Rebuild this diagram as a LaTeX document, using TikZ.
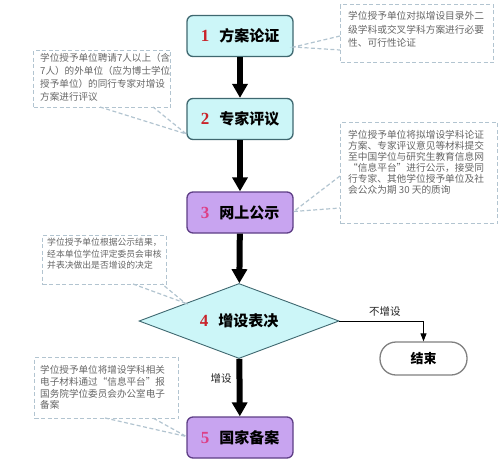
\documentclass[tikz,border=0pt]{standalone}
\usepackage{fontspec}
\usetikzlibrary{shapes.geometric,arrows.meta,calc}
\newfontfamily\cjk{Noto Sans CJK SC}
\newfontfamily\numf{Liberation Serif}
\definecolor{cyanfill}{HTML}{CCF6F8}
\definecolor{cyanline}{HTML}{3F6870}
\definecolor{purfill}{HTML}{C8A4F0}
\definecolor{purline}{HTML}{5E3E86}
\definecolor{numred}{HTML}{C9242B}
\definecolor{numpink}{HTML}{DD3F86}
\definecolor{callline}{HTML}{B2C4D0}
\definecolor{calltext}{HTML}{666666}
\definecolor{endline}{HTML}{808080}
\newcommand\stepnum[2]{{\numf\bfseries\fontsize{17}{18}\selectfont\color{#1}#2}\hspace{10pt}}
\begin{document}
\begin{tikzpicture}[x=1pt,y=-1pt,
  stepbox/.style={draw, line width=1.3pt, rounded corners=6pt, minimum width=106pt, minimum height=41pt, inner sep=0pt, font=\cjk\bfseries\fontsize{15}{18}\selectfont},
  cbox/.style={stepbox, fill=cyanfill, draw=cyanline},
  pbox/.style={stepbox, fill=purfill, draw=purline},
  decision/.style={diamond, aspect=2.67, minimum width=200pt, minimum height=75pt, inner sep=0pt, fill=cyanfill, draw=cyanline, line width=0.9pt, font=\cjk\bfseries\fontsize{15}{18}\selectfont},
  endnode/.style={rectangle, rounded corners=16pt, draw=endline, line width=1.3pt, fill=white, minimum width=87pt, minimum height=33pt, inner sep=0pt, font=\cjk\bfseries\fontsize{13}{16}\selectfont},
  flow/.style={line width=6pt, -{Triangle[width=15pt,length=14pt]}},
  branch/.style={line width=0.8pt, -{Triangle[width=6pt,length=8pt]}},
  callbox/.style={draw=callline, line width=1.2pt, dash pattern=on 4pt off 2.5pt, fill=white, inner sep=0pt, anchor=north west},
  calltxt/.style={text=calltext, align=left, inner sep=0pt, anchor=north west},
  pointer/.style={draw=callline, line width=1.2pt, dash pattern=on 4pt off 2.5pt},
  lbl/.style={font=\cjk\fontsize{10.5}{12}\selectfont, inner sep=0pt, text=black!85}
]
\useasboundingbox (0,0) rectangle (500,471);

% flow nodes
\node[cbox] (s1) at (240,36) {\stepnum{numred}{1}方案论证};
\node[cbox] (s2) at (240,119) {\stepnum{numred}{2}专家评议};
\node[pbox] (s3) at (240,212.5) {\stepnum{numpink}{3}网上公示};
\node[decision] (d4) at (239,321) {\stepnum{numred}{4}增设表决};
\node[pbox] (s5) at (240,437.5) {\stepnum{numpink}{5}国家备案};
\node[endnode] (e) at (423.5,358.5) {结束};

% connectors
\draw[flow] (s1) -- (s2);
\draw[flow] (s2) -- (s3);
\draw[flow] (s3) -- (d4);
\draw[flow] (d4) -- (s5) node[pos=0.35, left=5pt, lbl] {增设};
\draw[branch] (d4.east) -| (e.north) node[pos=0.27, above=4pt, lbl] {不增设};

% callout boxes
\node[callbox, minimum width=153pt, minimum height=58pt] (c1) at (340,4) {};
\node[callbox, minimum width=137pt, minimum height=57pt] (c2) at (33,50) {};
\node[callbox, minimum width=157pt, minimum height=101pt] (c3) at (340,122) {};
\node[callbox, minimum width=124pt, minimum height=49pt] (c4) at (42,235) {};
\node[callbox, minimum width=144pt, minimum height=61pt] (c5) at (34,357) {};

% callout texts
\node[calltxt, font=\cjk\fontsize{9.7}{13.5}\selectfont] (t1) at (348,11.5)
  {学位授予单位对拟增设目录外二\\级学科或交叉学科方案进行必要\\性、可行性论证};
\node[calltxt, font=\cjk\fontsize{9.6}{12.8}\selectfont] (t2) at (40,53.5)
  {学位授予单位聘请7人以上（含\\7人）的外单位（应为博士学位\\授予单位）的同行专家对增设\\方案进行评议};
\node[calltxt, font=\cjk\fontsize{9.7}{10.9}\selectfont] (t3) at (348,130.5)
  {学位授予单位将拟增设学科论证\\方案、专家评议意见等材料提交\\至中国学位与研究生教育信息网\\“信息平台”进行公示，接受同\\行专家、其他学位授予单位及社\\会公众为期 30 天的质询};
\node[calltxt, font=\cjk\fontsize{8.8}{11.5}\selectfont] (t4) at (47,238)
  {学位授予单位根据公示结果，\\经本单位学位评定委员会审核\\并表决做出是否增设的决定};
\node[calltxt, font=\cjk\fontsize{9.6}{11.7}\selectfont] (t5) at (40,365.5)
  {学位授予单位将增设学科相关\\电子材料通过“信息平台”报\\国务院学位委员会办公室电子\\备案};

% callout pointers
\coordinate (p1a) at (340,36);  \coordinate (p1b) at (340,50);  \coordinate (p1t) at ($(s1.east)+(0,11)$);
\coordinate (p2a) at (100,107); \coordinate (p2b) at (153,107); \coordinate (p2t) at ($(s2.west)+(0,15)$);
\coordinate (p3a) at (340,176); \coordinate (p3b) at (340,208); \coordinate (p3t) at ($(s3.east)+(0,-1)$);
\coordinate (p4a) at (133,284); \coordinate (p4b) at (162,284); \coordinate (p4t) at (185,303);
\coordinate (p5a) at (105,418); \coordinate (p5b) at (153,418); \coordinate (p5t) at ($(s5.west)+(0,-1)$);
\draw[pointer] (p1a) -- (p1t) -- (p1b);
\draw[pointer] (p2a) -- (p2t) -- (p2b);
\draw[pointer] (p3a) -- (p3t) -- (p3b);
\draw[pointer] (p4a) -- (p4t) -- (p4b);
\draw[pointer] (p5a) -- (p5t) -- (p5b);
\end{tikzpicture}
\end{document}
